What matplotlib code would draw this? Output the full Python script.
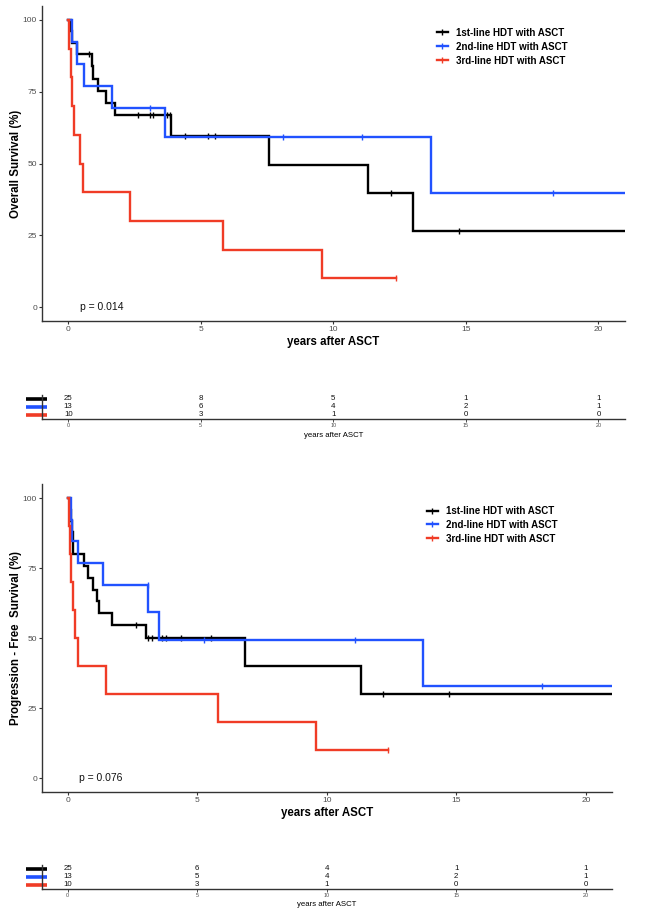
import numpy as np
import matplotlib
matplotlib.use('Agg')
import matplotlib.pyplot as plt
from matplotlib.lines import Line2D

plt.rcParams['font.family'] = ['Liberation Sans', 'DejaVu Sans']

# ---------------- data ----------------
groups = ['1st-line HDT with ASCT', '2nd-line HDT with ASCT', '3rd-line HDT with ASCT']
colors = ['#000000', '#2152ff', '#f03c26']

# Overall survival (step times in years, survival % after each step)
os1_t = [0, 0.12, 0.15, 0.35, 0.88, 0.95, 1.13, 1.43, 1.76, 3.87, 7.56, 11.32, 13.0, 21]
os1_s = [100, 96, 92, 88, 83.8, 79.6, 75.4, 71.2, 67.0, 59.5, 49.6, 39.7, 26.5, 26.5]
os1_cens = [0.79, 2.65, 3.1, 3.2, 3.74, 3.83, 4.4, 5.26, 5.55, 12.17, 14.73]

os2_t = [0, 0.16, 0.35, 0.58, 1.67, 3.64, 13.7, 21]
os2_s = [100, 92.3, 84.6, 76.9, 69.2, 59.3, 39.6, 39.6]
os2_cens = [3.07, 8.1, 11.09, 18.27]

os3_t = [0, 0.04, 0.09, 0.14, 0.2, 0.44, 0.54, 2.33, 5.83, 9.59, 12.36]
os3_s = [100, 90, 80, 70, 60, 50, 40, 30, 20, 10, 10]
os3_cens = [12.36]

# Progression-free survival
pfs1_t = [0, 0.09, 0.12, 0.17, 0.19, 0.22, 0.62, 0.77, 0.97, 1.12, 1.22, 1.71, 3.02, 6.86, 11.32, 21]
pfs1_s = [100, 96, 92, 88, 84, 80, 75.8, 71.6, 67.4, 63.2, 58.9, 54.7, 50.1, 40.1, 30.1, 30.1]
pfs1_cens = [2.64, 3.12, 3.25, 3.64, 3.8, 4.38, 5.53, 12.19, 14.73]

pfs2_t = [0, 0.13, 0.17, 0.41, 1.38, 3.11, 3.51, 13.7, 21]
pfs2_s = [100, 92.3, 84.6, 76.9, 69.2, 59.3, 49.4, 32.9, 32.9]
pfs2_cens = [3.09, 5.27, 11.09, 18.31]

pfs3_t = [0, 0.04, 0.09, 0.13, 0.19, 0.28, 0.41, 1.5, 5.81, 9.59, 12.35]
pfs3_s = [100, 90, 80, 70, 60, 50, 40, 30, 20, 10, 10]
pfs3_cens = [12.35]

risk_times = [0, 5, 10, 15, 20]
os_risk_1 = [25, 8, 5, 1, 1]
os_risk_2 = [13, 6, 4, 2, 1]
os_risk_3 = [10, 3, 1, 0, 0]
pfs_risk_1 = [25, 6, 4, 1, 1]
pfs_risk_2 = [13, 5, 4, 2, 1]
pfs_risk_3 = [10, 3, 1, 0, 0]

y_ticks = [0, 25, 50, 75, 100]
os_pval = 'p = 0.014'
pfs_pval = 'p = 0.076'
os_ylabel = 'Overall Survival (%)'
pfs_ylabel = 'Progression - Free  Survival (%)'
xlabel = 'years after ASCT'

# ---------------- layout ----------------
W, H = 648, 914
fig = plt.figure(figsize=(W / 100, H / 100), dpi=100)


def rect(l, t, r, b):
    return [l / W, 1 - b / H, (r - l) / W, (b - t) / H]


GRAY = '#333333'
TICKGRAY = '#4d4d4d'


def km_panel(ax, curves, cens, pval):
    for (t, s), c, col in zip(curves, cens, colors):
        t = np.asarray(t, float)
        s = np.asarray(s, float)
        ax.step(t, s, where='post', color=col, lw=1.7, solid_joinstyle='miter')
        idx = np.searchsorted(t, c, side='right') - 1
        ax.plot(c, s[idx], ls='none', marker='|', ms=5, mew=1.0, color=col)
    ax.set_xlim(-1, 21)
    ax.set_ylim(-5, 105)
    ax.set_xticks(risk_times)
    ax.set_yticks(y_ticks)
    for sp in ['top', 'right']:
        ax.spines[sp].set_visible(False)
    for sp in ['left', 'bottom']:
        ax.spines[sp].set_color(GRAY)
        ax.spines[sp].set_linewidth(1.0)
    ax.tick_params(length=2.2, width=0.8, color=GRAY, labelsize=6.0,
                   labelcolor=TICKGRAY, pad=1.2)
    ax.text(0.45, 0, pval, fontsize=7.5, va='center', ha='left', color='#111111')


def risk_table(ax, risks):
    for row, (vals, col) in enumerate(zip(risks, colors)):
        y = 3 - row
        for t, n in zip(risk_times, vals):
            ax.text(t, y, str(n), ha='center', va='center', fontsize=5.7, color='#111111')
        ax.plot([-0.027, 0.0086], [y, y], color=col, lw=2.6,
                transform=ax.get_yaxis_transform(), clip_on=False, solid_capstyle='butt')
    ax.set_xlim(-1, 21)
    ax.set_ylim(0.5, 3.5)
    ax.set_xticks(risk_times)
    ax.set_yticks([])
    for sp in ['top', 'right']:
        ax.spines[sp].set_visible(False)
    for sp in ['left', 'bottom']:
        ax.spines[sp].set_color(GRAY)
        ax.spines[sp].set_linewidth(1.0)
    ax.tick_params(axis='x', length=2, width=0.6, color=GRAY, labelsize=3.9,
                   labelcolor=TICKGRAY, pad=1)


# ---- top (OS) ----
ax1 = fig.add_axes(rect(41.7, 5.6, 625, 321.4))
km_panel(ax1, [(os1_t, os1_s), (os2_t, os2_s), (os3_t, os3_s)],
         [os1_cens, os2_cens, os3_cens], os_pval)
fig.text(16 / W, 1 - 163.5 / H, os_ylabel, rotation=90, ha='center', va='center',
         fontsize=8.3, fontweight='bold')
fig.text(333.3 / W, 1 - 341.5 / H, xlabel, ha='center', va='center',
         fontsize=8.3, fontweight='bold')

handles = [Line2D([0], [0], color=c, lw=1.7, marker='|', ms=5, mew=1.0) for c in colors]
fig.legend(handles, groups, loc='upper left', bbox_to_anchor=(436.7 / W, 1 - 27.5 / H),
           bbox_transform=fig.transFigure, frameon=False, borderpad=0, borderaxespad=0,
           handlelength=1.16, handletextpad=0.8, labelspacing=0.42,
           prop={'size': 7, 'weight': 'bold'})

axt1 = fig.add_axes(rect(41.7, 395, 625, 419))
risk_table(axt1, [os_risk_1, os_risk_2, os_risk_3])
fig.text(333.3 / W, 1 - 435.5 / H, xlabel, ha='center', va='center', fontsize=5.6)

# ---- bottom (PFS) ----
ax2 = fig.add_axes(rect(41.7, 484.3, 611.7, 792.3))
km_panel(ax2, [(pfs1_t, pfs1_s), (pfs2_t, pfs2_s), (pfs3_t, pfs3_s)],
         [pfs1_cens, pfs2_cens, pfs3_cens], pfs_pval)
fig.text(16 / W, 1 - 638 / H, pfs_ylabel, rotation=90, ha='center', va='center',
         fontsize=8.3, fontweight='bold')
fig.text(326.7 / W, 1 - 813 / H, xlabel, ha='center', va='center',
         fontsize=8.3, fontweight='bold')
fig.legend(handles, groups, loc='upper left', bbox_to_anchor=(426.7 / W, 1 - 506 / H),
           bbox_transform=fig.transFigure, frameon=False, borderpad=0, borderaxespad=0,
           handlelength=1.16, handletextpad=0.8, labelspacing=0.4,
           prop={'size': 7, 'weight': 'bold'})

axt2 = fig.add_axes(rect(41.7, 865, 611.7, 889))
risk_table(axt2, [pfs_risk_1, pfs_risk_2, pfs_risk_3])
fig.text(326.7 / W, 1 - 905 / H, xlabel, ha='center', va='center', fontsize=5.6)

fig.savefig('out.png', dpi=100, facecolor='white')
